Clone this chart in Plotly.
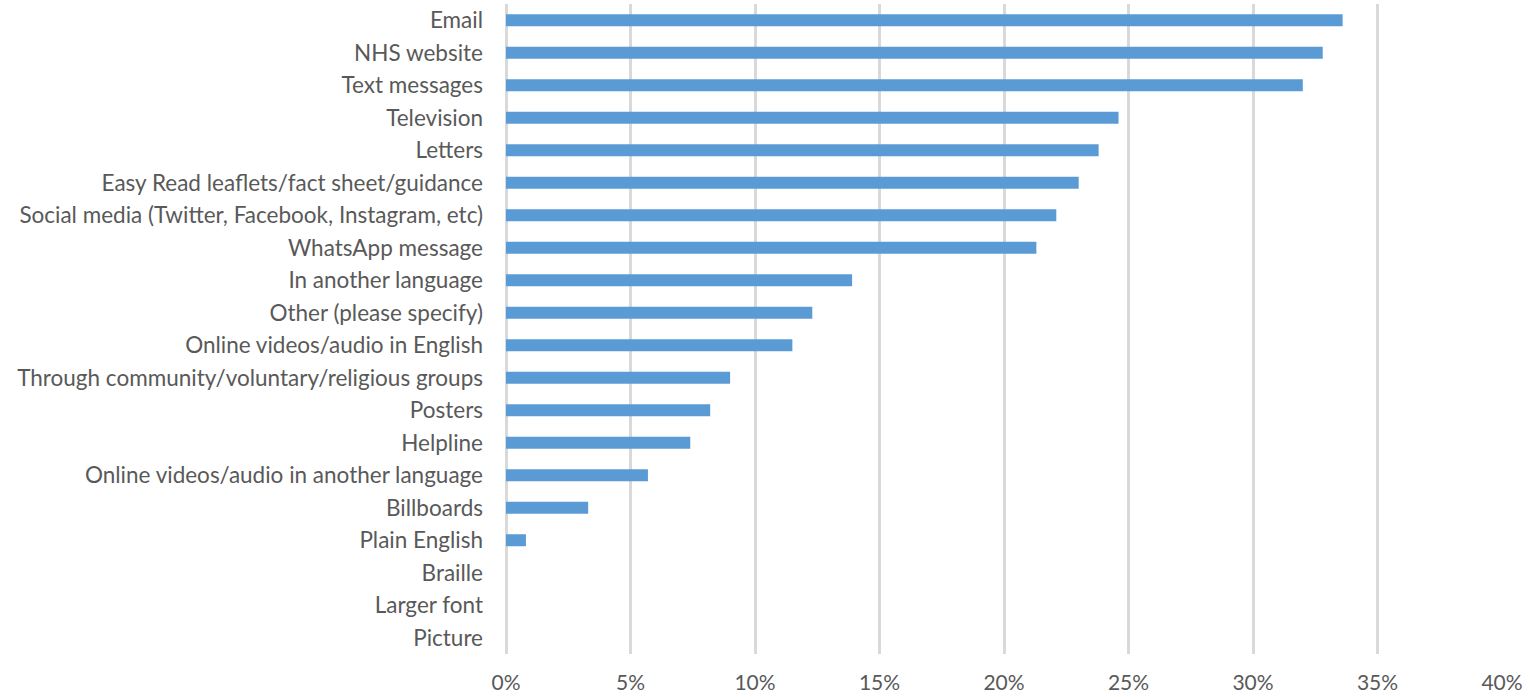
import plotly.graph_objects as go

# Share of respondents choosing each communication channel (%)
channels = [
    "Email", "NHS website", "Text messages", "Television", "Letters",
    "Easy Read leaflets/fact sheet/guidance",
    "Social media (Twitter, Facebook, Instagram, etc)",
    "WhatsApp message", "In another language", "Other (please specify)",
    "Online videos/audio in English",
    "Through community/voluntary/religious groups", "Posters", "Helpline",
    "Online videos/audio in another language", "Billboards", "Plain English",
    "Braille", "Larger font", "Picture",
]
shares = [33.6, 32.8, 32.0, 24.6, 23.8, 23.0, 22.1, 21.3, 13.9, 12.3,
          11.5, 9.0, 8.2, 7.4, 5.7, 3.3, 0.8, 0.0, 0.0, 0.0]

x_ticks = [0, 5, 10, 15, 20, 25, 30, 35, 40]
x_tick_labels = [f"{v}%" for v in x_ticks]

font_family = "Lato, 'Open Sans', sans-serif"
text_grey = "#595959"

fig = go.Figure(
    go.Bar(
        x=shares,
        y=channels,
        orientation="h",
        marker=dict(color="#5b9bd5", line=dict(width=0)),
        hoverinfo="x+y",
    )
)

fig.update_layout(
    width=1530,
    height=697,
    margin=dict(l=506, r=28, t=4, b=43),
    paper_bgcolor="white",
    plot_bgcolor="white",
    bargap=0.63,
    showlegend=False,
    font=dict(family=font_family, color=text_grey, size=22),
)

fig.update_xaxes(
    range=[0, 40],
    tickvals=x_ticks,
    ticktext=x_tick_labels,
    showgrid=True,
    gridcolor="#d9d9d9",
    gridwidth=2.5,
    zeroline=True,
    zerolinecolor="#d9d9d9",
    zerolinewidth=2.5,
    showline=False,
    ticks="",
    ticklabelstandoff=14,
    automargin=False,
    tickfont=dict(size=21, color=text_grey),
)

fig.update_yaxes(
    autorange="reversed",
    showgrid=False,
    showline=False,
    ticks="",
    ticklabelstandoff=22,
    automargin=False,
    tickfont=dict(size=22.5, color=text_grey),
)

fig.write_html("out.html")
